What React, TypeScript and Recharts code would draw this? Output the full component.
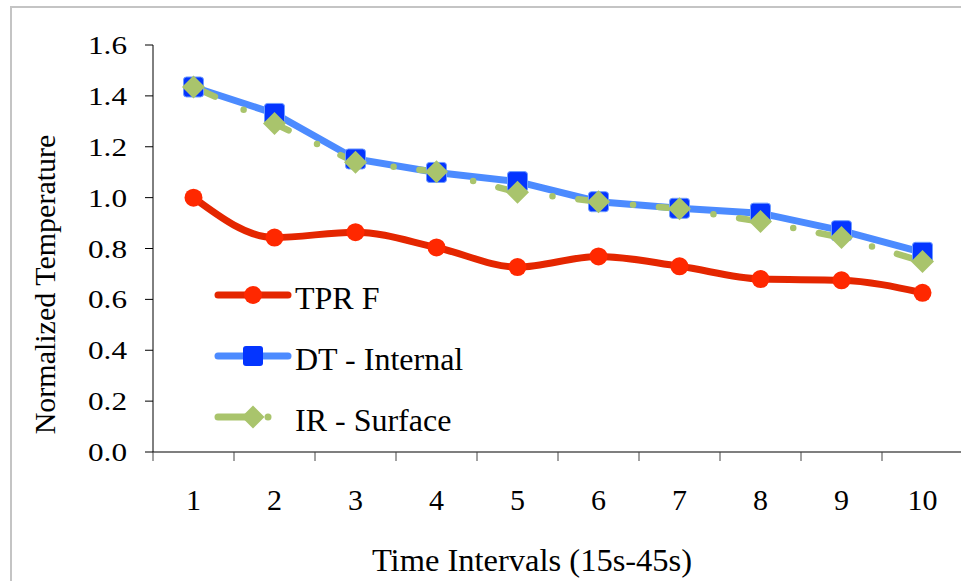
import React from "react";
import { LineChart, Line, XAxis, YAxis, Legend } from "recharts";

const categories = [1, 2, 3, 4, 5, 6, 7, 8, 9, 10];
const tprF = [1.0, 0.843, 0.864, 0.804, 0.727, 0.769, 0.73, 0.68, 0.675, 0.626];
const dtInternal = [1.435, 1.331, 1.152, 1.099, 1.063, 0.984, 0.958, 0.939, 0.87, 0.785];
const irSurface = [1.435, 1.291, 1.139, 1.102, 1.021, 0.984, 0.956, 0.906, 0.843, 0.749];
const yTicks = [0, 0.2, 0.4, 0.6, 0.8, 1.0, 1.2, 1.4, 1.6];
const edgeTicks = [0.5, 1.5, 2.5, 3.5, 4.5, 5.5, 6.5, 7.5, 8.5, 9.5, 10.5];

const data = categories.map((t, i) => ({
  t,
  tpr: tprF[i],
  dt: dtInternal[i],
  ir: irSurface[i],
}));

const FONT = "Liberation Serif, Times New Roman, serif";
const textStyle = { fontFamily: FONT };
const RED_LINE = "#e42600";
const RED_DOT = "#ff2800";
const BLUE_LINE = "#4c8bff";
const BLUE_DOT = "#0435ff";
const GREEN = "#a9c46c";

const RedDot = (props: any) => {
  const { cx, cy } = props;
  if (cx == null || cy == null) return null;
  return <circle cx={cx} cy={cy} r={9} fill={RED_DOT} />;
};

const BlueDot = (props: any) => {
  const { cx, cy } = props;
  if (cx == null || cy == null) return null;
  return (
    <rect x={cx - 10} y={cy - 10} width={20} height={20} rx={3} fill={BLUE_DOT} stroke="#6f9dff" strokeWidth={1} />
  );
};

const GreenDot = (props: any) => {
  const { cx, cy } = props;
  if (cx == null || cy == null) return null;
  const s = 11.5;
  return <polygon points={`${cx},${cy - s} ${cx + s},${cy} ${cx},${cy + s} ${cx - s},${cy}`} fill={GREEN} />;
};

const YTick = (props: any) => {
  const { x, y, payload } = props;
  return (
    <text
      transform={`translate(${x},${y + 9}) scale(1.2,1)`}
      textAnchor="end"
      style={textStyle}
      fontSize={26}
      fill="#000"
    >
      {Number(payload.value).toFixed(1)}
    </text>
  );
};

const XTick = (props: any) => {
  const { x, y, payload } = props;
  return (
    <text x={x} y={y} textAnchor="middle" style={textStyle} fontSize={30} fill="#000">
      {payload.value}
    </text>
  );
};

const renderLegend = () => {
  const rows = [
    { name: "TPR F", y: 295 },
    { name: "DT - Internal", y: 356 },
    { name: "IR - Surface", y: 417 },
  ];
  return (
    <svg width={961} height={581} style={{ position: "absolute", left: 0, top: 0 }}>
      <line x1={218} y1={rows[0].y} x2={288} y2={rows[0].y} stroke={RED_LINE} strokeWidth={7} strokeLinecap="round" />
      <circle cx={253} cy={rows[0].y} r={9} fill={RED_DOT} />
      <line x1={218} y1={rows[1].y} x2={288} y2={rows[1].y} stroke={BLUE_LINE} strokeWidth={7} strokeLinecap="round" />
      <rect x={243} y={rows[1].y - 10} width={20} height={20} rx={3} fill={BLUE_DOT} />
      <line x1={218} y1={rows[2].y} x2={250} y2={rows[2].y} stroke={GREEN} strokeWidth={7} strokeLinecap="round" />
      <polygon
        points={`253,${rows[2].y - 11.5} 264.5,${rows[2].y} 253,${rows[2].y + 11.5} 241.5,${rows[2].y}`}
        fill={GREEN}
      />
      <circle cx={268} cy={rows[2].y} r={3.5} fill={GREEN} />
      {rows.map((r) => (
        <text key={r.name} x={295} y={r.y + 14} style={textStyle} fontSize={32} fill="#000">
          {r.name}
        </text>
      ))}
    </svg>
  );
};

export default function App() {
  return (
    <div
      style={{
        position: "absolute",
        left: 0,
        top: 0,
        width: 961,
        height: 581,
        overflow: "hidden",
        background: "#fff",
        fontFamily: FONT,
      }}
    >
      <div
        style={{
          position: "absolute",
          left: 10,
          top: 6,
          width: 980,
          height: 600,
          borderTop: "2px solid #c4c4c4",
          borderLeft: "2px solid #c4c4c4",
        }}
      />
      <LineChart width={970} height={581} data={data} margin={{ top: 45, right: 7, left: 10, bottom: 0 }}>
        <XAxis
          xAxisId="edge"
          dataKey="t"
          type="number"
          domain={[0.5, 10.5]}
          ticks={edgeTicks}
          height={1}
          tickSize={9}
          tickFormatter={() => ""}
          axisLine={{ stroke: "#7f7f7f", strokeWidth: 2 }}
          tickLine={{ stroke: "#444", strokeWidth: 1 }}
        />
        <XAxis
          xAxisId="main"
          dataKey="t"
          type="number"
          domain={[0.5, 10.5]}
          ticks={categories}
          height={128}
          tickSize={0}
          tickMargin={57}
          axisLine={false}
          tickLine={false}
          tick={<XTick />}
          label={{
            content: (p: any) => {
              const vb = p.viewBox;
              return (
                <text
                  x={vb.x + vb.width / 2 - 26}
                  y={vb.y + 118}
                  textAnchor="middle"
                  style={textStyle}
                  fontSize={32.5}
                  fill="#000"
                >
                  Time Intervals (15s-45s)
                </text>
              );
            },
          }}
        />
        <YAxis
          type="number"
          domain={[0, 1.6]}
          ticks={yTicks}
          width={143}
          tickSize={8}
          tickMargin={18}
          interval={0}
          axisLine={{ stroke: "#000", strokeWidth: 1 }}
          tickLine={{ stroke: "#000", strokeWidth: 1 }}
          tick={<YTick />}
          label={{
            content: (p: any) => {
              const vb = p.viewBox;
              const cy = vb.y + vb.height / 2 + 36;
              return (
                <text
                  transform={`translate(${vb.x + 45},${cy}) rotate(-90)`}
                  textAnchor="middle"
                  style={textStyle}
                  fontSize={30}
                  fill="#000"
                >
                  Normalized Temperature
                </text>
              );
            },
          }}
        />
        <Legend
          layout="vertical"
          align="center"
          verticalAlign="middle"
          content={renderLegend}
          wrapperStyle={{ left: 0, top: 0, width: 961, height: 581 }}
        />
        <Line
          xAxisId="main"
          dataKey="tpr"
          name="TPR F"
          type="monotone"
          stroke={RED_LINE}
          strokeWidth={7}
          dot={<RedDot />}
          activeDot={false}
          isAnimationActive={false}
        />
        <Line
          xAxisId="main"
          dataKey="dt"
          name="DT - Internal"
          type="linear"
          stroke={BLUE_LINE}
          strokeWidth={7}
          dot={<BlueDot />}
          activeDot={false}
          isAnimationActive={false}
        />
        <Line
          xAxisId="main"
          dataKey="ir"
          name="IR - Surface"
          type="linear"
          stroke={GREEN}
          strokeWidth={6.5}
          strokeLinecap="round"
          strokeDasharray="23.5 31.5 0 26"
          dot={<GreenDot />}
          activeDot={false}
          isAnimationActive={false}
        />
      </LineChart>
    </div>
  );
}
